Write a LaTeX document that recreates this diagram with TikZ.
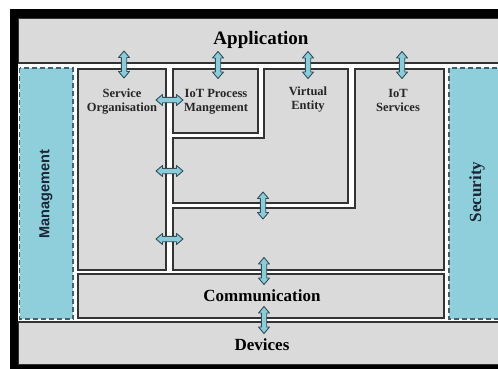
\documentclass[tikz,border=0pt]{standalone}
\usepackage{fontspec}
\setmainfont{Liberation Serif}
\newfontfamily\labsans{Liberation Sans}
\definecolor{boxgray}{HTML}{DADADA}
\definecolor{boxline}{HTML}{333333}
\definecolor{sideblue}{HTML}{8FCEDB}
\definecolor{sideline}{HTML}{44606C}
\definecolor{arrfill}{HTML}{8CCBD8}
\definecolor{arrline}{HTML}{2F4E5A}
\definecolor{navy}{HTML}{1B2738}
\tikzset{
  region/.style={fill=boxgray, draw=boxline, line width=1.3pt},
  sidebox/.style={fill=sideblue, draw=sideline, line width=1.3pt, dash pattern=on 5pt off 3pt},
  bigtxt/.style={font=\bfseries\fontsize{17}{19}\selectfont, inner sep=0},
  apptxt/.style={font=\bfseries\fontsize{19}{21}\selectfont, inner sep=0},
  smalltxt/.style={font=\bfseries\fontsize{12.5}{14}\selectfont, align=center, inner sep=0, text=black!85},
  arrstyle/.style={draw=arrline, fill=arrfill, line width=0.9pt, line join=round},
  pics/dbla/.style={code={
    \path[arrstyle] (-13.5,0) -- (-7,-5.5) -- (-7,-2.7) -- (7,-2.7) -- (7,-5.5) -- (13.5,0)
      -- (7,5.5) -- (7,2.7) -- (-7,2.7) -- (-7,5.5) -- cycle;}},
}
\begin{document}
\begin{tikzpicture}[x=1pt,y=-1pt]
\useasboundingbox (0,0) rectangle (498,368);
\clip (0,0) rectangle (498,368);
\fill[white] (0,0) rectangle (498,368);
% black frame
\fill[black] (10,9) rectangle (510,380);
\fill[white] (18,18) rectangle (510,365);
% bands
\draw[region] (18.5,18.5) rectangle (510,63);
\draw[region] (18.5,322) rectangle (510,364.5);
% side boxes
\draw[sidebox] (19.5,68) rectangle (73,319);
\draw[sidebox] (449,68) rectangle (510,319);
% core regions
\draw[region] (78,69) rectangle (166,270);
\draw[region] (173,69) rectangle (258,133);
\draw[region] (264,69) -- (348,69) -- (348,203) -- (173,203) -- (173,138) -- (264,138) -- cycle;
\draw[region] (355,69) -- (444,69) -- (444,270) -- (173,270) -- (173,208) -- (355,208) -- cycle;
\draw[region] (78,274) rectangle (444,318);
% texts
\node[apptxt] (app) at (261,40) {Application};
\node[bigtxt] (comm) at (262,296) {Communication};
\node[bigtxt] (dev) at (262,345) {Devices};
\node[smalltxt] (so) at (122,102) {Service\\Organisation};
\node[smalltxt] (iotp) at (216,102) {IoT Process\\Mangement};
\node[smalltxt] (ve) at (308,100) {Virtual\\Entity};
\node[smalltxt] (ios) at (398,100) {IoT\\Services};
\node[font=\labsans\bfseries\fontsize{14.5}{16}\selectfont, text=navy, rotate=90, inner sep=0] (mgmt) at (46,194) {Management};
\node[bigtxt, text=navy, rotate=90] (sec) at (477,192) {Security};
% arrows
\pic[rotate=90] (a1) at (124,64.5) {dbla};
\pic[rotate=90] (a2) at (218,65) {dbla};
\pic[rotate=90] (a3) at (308,65) {dbla};
\pic[rotate=90] (a4) at (402,65) {dbla};
\pic (h1) at (169.5,100) {dbla};
\pic (h2) at (169.5,171) {dbla};
\pic (h3) at (169.5,239) {dbla};
\pic[rotate=90] (v1) at (263,205.5) {dbla};
\pic[rotate=90] (v2) at (264,271) {dbla};
\pic[rotate=90] (v3) at (264,320) {dbla};
\end{tikzpicture}
\end{document}
